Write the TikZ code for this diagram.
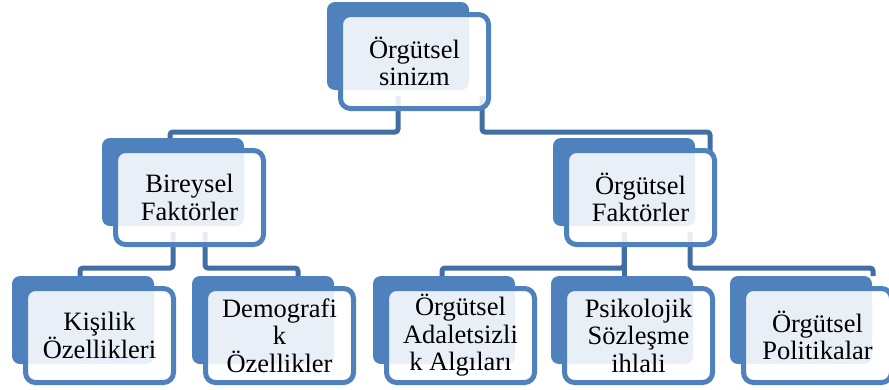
\documentclass[tikz,border=0pt]{standalone}
\usepackage{fontspec}
\setmainfont[Ligatures=NoCommon]{Liberation Serif}
\usetikzlibrary{backgrounds}
\definecolor{boxblue}{RGB}{79,129,189}
\definecolor{connblue}{RGB}{66,110,166}
\tikzset{
 backbox/.style={rectangle, rounded corners=8pt, fill=boxblue, minimum width=142pt, minimum height=88pt, inner sep=0pt, outer sep=0pt},
 frontbox/.style={rectangle, rounded corners=10pt, draw=boxblue, line width=5pt, fill=white, fill opacity=0.88, text opacity=1, minimum width=148pt, minimum height=94pt, inner sep=0pt, outer sep=0pt, align=center, text=black, font=\fontsize{26.5}{27.5}\selectfont},
 conn/.style={draw=connblue, line width=5pt, rounded corners=3pt},
}
\begin{document}
\begin{tikzpicture}[x=1pt,y=-1pt]
\clip (0,0) rectangle (889,389);
% level 1
\node[backbox] (b1) at (398,46) {};
\node[frontbox] (f1) at (414.5,61.5) {Örgütsel\\sinizm};
% level 2
\node[backbox] (b2) at (173,182) {};
\node[frontbox] (f2) at (189.5,197.5) {Bireysel\\Faktörler};
\node[backbox] (b3) at (624,182) {};
\node[frontbox] (f3) at (640.5,197.5) {Örgütsel\\Faktörler};
% level 3
\node[backbox] (b4) at (83,320) {};
\node[frontbox] (f4) at (99.5,335.5) {Kişilik\\Özellikleri};
\node[backbox] (b5) at (263,320) {};
\node[frontbox] (f5) at (279.5,335.5) {Demografi\\k\\Özellikler};
\node[backbox] (b6) at (444,320) {};
\node[frontbox] (f6) at (460.5,335.5) {Örgütsel\\Adaletsizli\\k Algıları};
\node[backbox] (b7) at (622,320) {};
\node[frontbox] (f7) at (638.5,335.5) {Psikolojik\\Sözleşme\\ihlali};
\node[backbox] (b8) at (801,320) {};
\node[frontbox] (f8) at (817.5,335.5) {Örgütsel\\Politikalar};
% connectors
\begin{scope}[on background layer]
\draw[conn] ([yshift=-6pt]b1.south) -- ++(0,36) -| ([xshift=-3pt]b2.north);
\draw[conn] ([xshift=84pt,yshift=-6pt]b1.south) -- ++(0,36) -| ([xshift=86pt,yshift=-14pt]b3.north);
\draw[conn] ([yshift=-6pt]b2.south) -- ++(0,36) -| ([xshift=-3pt]b4.north);
\draw[conn] ([xshift=32pt,yshift=-6pt]b2.south) -- ++(0,36) -| ([xshift=35pt]b5.north);
\draw[conn] ([yshift=-6pt]b3.south) -- ++(0,36) -| ([xshift=-2pt]b6.north);
\draw[conn] ([yshift=-6pt]b3.south) -- (b3.south |- b7.north);
\draw[conn] ([xshift=66pt,yshift=-6pt]b3.south) -- ++(0,36) -| ([xshift=72pt]b8.north);
\end{scope}
\end{tikzpicture}
\end{document}
